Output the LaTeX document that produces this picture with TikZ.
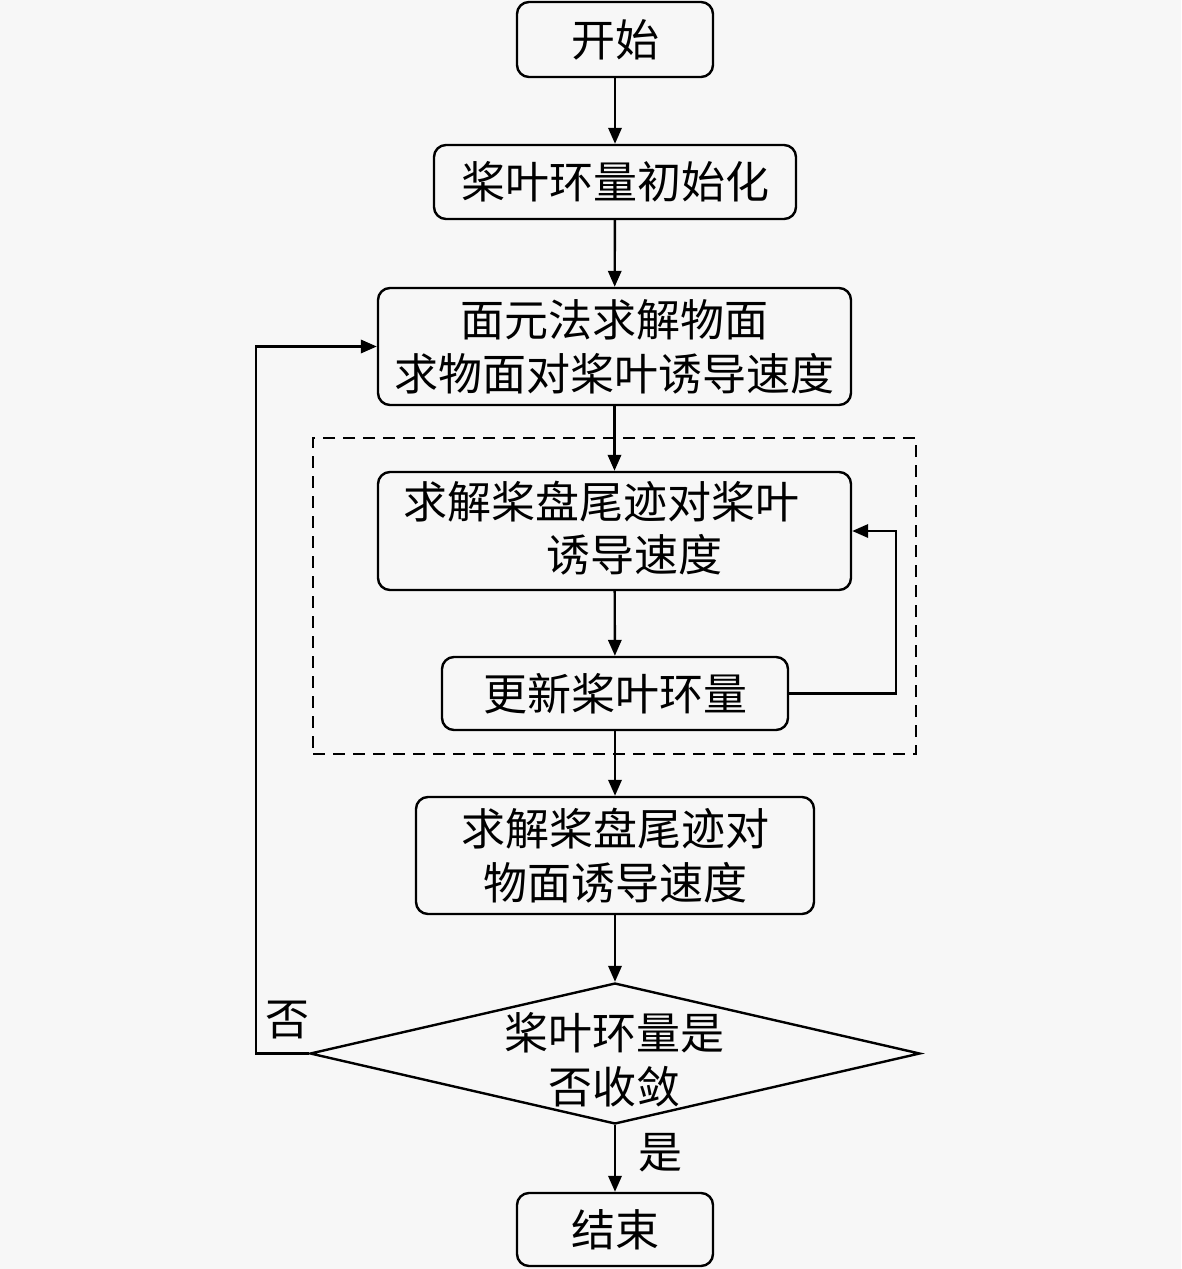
\documentclass[tikz,border=0pt]{standalone}
\usepackage{fontspec}
\setmainfont{Noto Sans CJK SC}
\usetikzlibrary{arrows.meta,shapes.geometric}
\begin{document}
\begin{tikzpicture}[x=0.75pt,y=-0.75pt,
  every node/.style={font=\fontsize{33pt}{40.5pt}\selectfont},
  box/.style={draw, rounded corners=9pt, line width=1.8pt, inner sep=0pt, align=center},
  arr/.style={-{Triangle[length=12pt,width=10pt]}, line width=1.8pt},
  ln/.style={line width=1.8pt}]
\useasboundingbox[fill=white!97!black] (0,0) rectangle (1181,1269);
\node[box, minimum width=147pt, minimum height=56.25pt] (s) at (615,39.5) {开始};
\node[box, minimum width=271.5pt, minimum height=55.5pt] (b2) at (615,182) {桨叶环量初始化};
\node[box, minimum width=354.75pt, minimum height=87.75pt] (b3) at (614.5,346.5) {面元法求解物面\\求物面对桨叶诱导速度};
\node[box, minimum width=354.75pt, minimum height=88.5pt] (b4) at (614.5,531) {};
\node (t4a) at (601,502) {求解桨盘尾迹对桨叶};
\node (t4b) at (634,555) {诱导速度};
\node[box, minimum width=259.5pt, minimum height=54.75pt] (b5) at (615,693.5) {更新桨叶环量};
\node[box, minimum width=298.5pt, minimum height=87.75pt] (b6) at (615,855.5) {求解桨盘尾迹对\\物面诱导速度};
\node[draw, diamond, line width=1.8pt, inner sep=0pt, minimum width=457.5pt, minimum height=105.75pt] (dia) at (615,1053.5) {};
\node[align=center] (td) at (614,1060) {桨叶环量是\\否收敛};
\node[box, minimum width=147pt, minimum height=54.75pt] (e) at (615,1229.5) {结束};
\node[draw, line width=1.6pt, dash pattern=on 9pt off 6pt, minimum width=452.25pt, minimum height=237pt, inner sep=0pt] (dash) at (614.5,596) {};
\node (no) at (287,1020) {否};
\node (yes) at (660,1153) {是};
\coordinate (lx) at (256,0);
\coordinate (rx) at (896,0);
\draw[arr] (s) -- (b2);
\draw[arr] (b2) -- (b3);
\draw[arr] (b3) -- (b4);
\draw[arr] (b4) -- (b5);
\draw[arr] (b5) -- (b6);
\draw[arr] (b6) -- (dia.north);
\draw[arr] (dia.south) -- (e);
\draw[arr] (b5.east) -- (b5.east -| rx) |- (b4.east);
\draw[arr] (dia.west) -- (dia.west -| lx) |- (b3.west);
\end{tikzpicture}
\end{document}
